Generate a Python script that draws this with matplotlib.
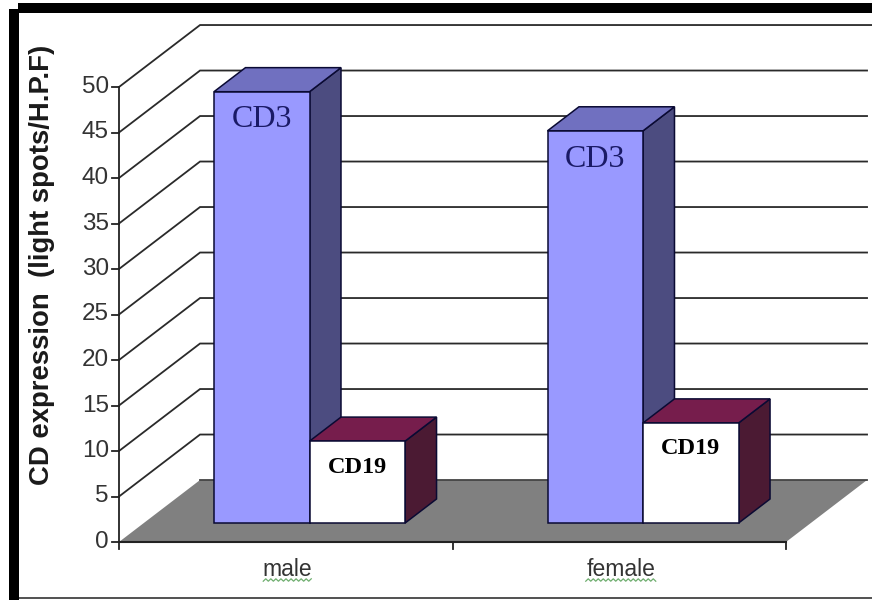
import matplotlib
matplotlib.use("Agg")
import matplotlib.pyplot as plt
import numpy as np
from matplotlib.patches import Polygon, Rectangle

# Chart data
categories = ["male", "female"]
series_names = ["CD3", "CD19"]
cd3_values = [47.4, 43.1]
cd19_values = [9.0, 11.0]
y_ticks = list(range(0, 55, 5))
y_label = "CD expression  (light spots/H.P.F)"

# Colours for each bar face: front, top, side
CD3_FACES = ("#9999ff", "#7070c0", "#4c4c80")
CD19_FACES = ("#ffffff", "#761d4c", "#4b1a33")
FLOOR = "#808080"
TEXT_GREY = "#333333"

# 3D look: a full step through the depth of the plot
DEPTH_X = 0.243
DEPTH_Y = 6.81
BAR_WIDTH = 0.2865
DEPTH_FRONT = 0.306
DEPTH_BACK = 0.694
N_CATS = len(categories)

fig = plt.figure(figsize=(8.72, 6.0), dpi=100)
ax = fig.add_axes([0, 0, 1, 1])
px_x = N_CATS / 667.0
px_y = 1 / 9.1
ax.set_xlim(-119 * px_x, (872 - 119) * px_x)
ax.set_ylim(-(600 - 542) * px_y, 542 * px_y)
ax.axis("off")


def project(x, y, depth):
    return (x + depth * DEPTH_X, y + depth * DEPTH_Y)


# Floor of the plot
ax.add_patch(Polygon([project(0, 0, 0), project(N_CATS, 0, 0),
                      project(N_CATS, 0, 1), project(0, 0, 1)],
                     closed=True, fc=FLOOR, ec="none", zorder=1))
bx0, by0 = project(0, 0, 1)
bx1, _ = project(N_CATS, 0, 1)
ax.plot([bx0, bx1], [by0, by0], color="#444444", lw=1.3, zorder=1.5)
ax.plot([0, N_CATS], [0, 0], color="#222222", lw=1.5, zorder=1.5)

# Grid lines run along the side wall and then across the back wall
for v in y_ticks[1:]:
    x0, y0 = project(0, v, 0)
    x1, y1 = project(0, v, 1)
    x2, y2 = project(N_CATS, v, 1)
    if v == y_ticks[-1]:
        x2 = ax.get_xlim()[1]
    ax.plot([x0, x1, x2], [y0, y1, y2], color="#2a2a2a", lw=1.3, zorder=2,
            solid_joinstyle="miter")

# Left axis with outward ticks and the category ticks below the floor
ax.plot([0, 0], [0, y_ticks[-1]], color="#222222", lw=1.3, zorder=3)
for v in y_ticks:
    ax.plot([-7 * px_x, 0], [v, v], color="#222222", lw=1.3, zorder=3)
    ax.text(-10 * px_x, v, str(v), ha="right", va="center",
            family="Liberation Sans", fontsize=17.5, color=TEXT_GREY, zorder=4)
for i in range(N_CATS + 1):
    ax.plot([i, i], [0, -7 * px_y], color="#222222", lw=1.3, zorder=3)


def draw_bar(x_left, value, faces, z):
    x_right = x_left + BAR_WIDTH
    front, top, side = faces
    edge = dict(ec="#0a0a33", lw=1.1, joinstyle="miter", zorder=z)
    a = project(x_left, 0, DEPTH_FRONT)
    b = project(x_right, 0, DEPTH_FRONT)
    c = project(x_right, value, DEPTH_FRONT)
    d = project(x_left, value, DEPTH_FRONT)
    e = project(x_left, value, DEPTH_BACK)
    f = project(x_right, value, DEPTH_BACK)
    g = project(x_right, 0, DEPTH_BACK)
    ax.add_patch(Polygon([b, g, f, c], closed=True, fc=side, **edge))
    ax.add_patch(Polygon([d, c, f, e], closed=True, fc=top, **edge))
    ax.add_patch(Polygon([a, b, c, d], closed=True, fc=front, **edge))
    return (a[0] + b[0]) / 2, d[1]


# Bars, with the series name written on the front face
for i in range(N_CATS):
    start = i + 0.5 - BAR_WIDTH - 1 * px_x
    cx, top_y = draw_bar(start, cd3_values[i], CD3_FACES, 5)
    ax.text(cx, top_y - 3.1, series_names[0], ha="center", va="center",
            family="Liberation Serif", fontsize=23, color="#1a1a66", zorder=8)
    cx, top_y = draw_bar(start + BAR_WIDTH, cd19_values[i], CD19_FACES, 6)
    ax.text(cx, top_y - 2.85, series_names[1], ha="center", va="center",
            family="Liberation Serif", fontsize=17.5, fontweight="bold",
            color="#000000", zorder=8)

# Category labels, each with a wavy green underline
for i, name in enumerate(categories):
    centre = i + 0.5 + 1.5 * px_x
    ax.text(centre, -27 * px_y, name, ha="center", va="center",
            family="Liberation Sans", fontsize=16.5, color=TEXT_GREY, zorder=4)
    half = (24 if name == "male" else 35) * px_x
    wave_x = np.linspace(centre - half, centre + half, int(2 * half / px_x / 2.5) + 1)
    wave_y = -38 * px_y + np.where(np.arange(wave_x.size) % 2, 1, -1) * 1.2 * px_y
    ax.plot(wave_x, wave_y, color="#6fae6f", lw=0.9, zorder=4)

ax.text(-77 * px_x, 277 * px_y, y_label, rotation=90, ha="center", va="center",
        family="Liberation Sans", fontsize=19.8, fontweight="bold",
        color="#1a1a1a", zorder=4)

# Frame around the picture: heavy left and top, thin bottom
trans = fig.transFigure
def frame(x0, y0, x1, y1, color):
    fig.add_artist(Rectangle((x0 / 872, 1 - y1 / 600), (x1 - x0) / 872, (y1 - y0) / 600,
                             transform=trans, fc=color, ec="none", zorder=10))
frame(9, 9, 19, 600, "#000000")
frame(18, 3, 872, 13, "#000000")
frame(19, 597, 872, 599, "#555555")

fig.savefig("out.png", dpi=100)
